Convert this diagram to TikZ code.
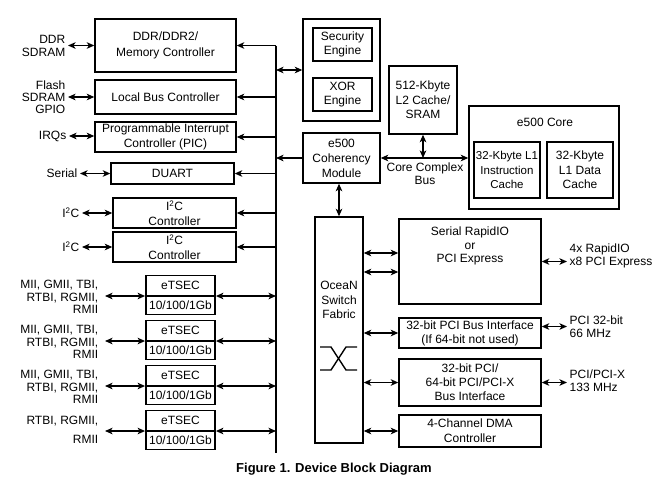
\documentclass[tikz,border=0pt]{standalone}
\usepackage{fontspec}
\setmainfont{Liberation Sans}
\usetikzlibrary{calc,shapes.multipart,arrows.meta}

\begin{document}
\begin{tikzpicture}[x=1pt, y=-1pt, line width=1.4pt,
  font=\fontsize{12}{14}\selectfont,
  ls/.style={font=\fontsize{12}{#1}\selectfont},
  blk/.style={rectangle, draw, align=center, inner sep=1pt},
  txt/.style={align=center, inner sep=1pt},
  ext/.style={align=right, anchor=east, inner sep=2pt},
  extr/.style={align=left, anchor=west, inner sep=2pt},
  tsec/.style={rectangle split, rectangle split parts=2, draw, minimum width=69, inner ysep=4pt, text height=9pt, text depth=2pt, anchor=text split},
  >={Stealth[length=7.5pt,width=6.5pt,inset=2pt]}]
\useasboundingbox (0,0) rectangle (666,485);

\node[blk, minimum width=141, minimum height=53, ls=16] (ddr) at (165.5,45.5) {DDR/DDR2/\\Memory Controller};
\node[blk, minimum width=141, minimum height=34] (lbc) at (165.5,97) {Local Bus Controller};
\node[blk, minimum width=141, minimum height=30, ls=15] (pic) at (165.5,137) {Programmable Interrupt\\Controller (PIC)};
\node[blk, minimum width=123, minimum height=21] (duart) at (172.5,173.5) {DUART};
\node[blk, minimum width=123, minimum height=30, ls=15] (iicA) at (174.5,213) {I\textsuperscript{2}C\\Controller};
\node[blk, minimum width=123, minimum height=30, ls=15] (iicB) at (174.5,247) {I\textsuperscript{2}C\\Controller};
\node[tsec] (tsA) at (180.5,296) {eTSEC \nodepart{two} 10/100/1Gb};
\node[tsec] (tsB) at (180.5,341) {eTSEC \nodepart{two} 10/100/1Gb};
\node[tsec] (tsC) at (180.5,386) {eTSEC \nodepart{two} 10/100/1Gb};
\node[tsec] (tsD) at (180.5,431) {eTSEC \nodepart{two} 10/100/1Gb};

\node[ext, ls=13] (ddrext) at (68,45.5) {DDR\\SDRAM};
\node[ext, ls=12] (lbcext) at (68,97) {Flash\\SDRAM\\GPIO};
\node[ext] (picext) at (69,136) {IRQs};
\node[ext] (duartext) at (80,173.5) {Serial};
\node[ext] (iicAext) at (82,213) {I\textsuperscript{2}C};
\node[ext] (iicBext) at (82,247) {I\textsuperscript{2}C};
\node[ext, ls=12.5, inner xsep=6pt] (tsAext) at (105,297) {MII, GMII, TBI,\\RTBI, RGMII,\\RMII};
\node[ext, ls=12.5, inner xsep=6pt] (tsBext) at (105,342) {MII, GMII, TBI,\\RTBI, RGMII,\\RMII};
\node[ext, ls=12.5, inner xsep=6pt] (tsCext) at (105,387) {MII, GMII, TBI,\\RTBI, RGMII,\\RMII};
\node[ext, ls=19, inner xsep=6pt] (tsDext) at (105,430) {RTBI, RGMII,\\RMII};

\draw[<->] (ddrext.east) -- (ddrext.east -| ddr.west);
\draw[<->] (lbcext.east) -- (lbcext.east -| lbc.west);
\draw[<->] (picext.east) -- (picext.east -| pic.west);
\draw[<->] (duartext.east) -- (duartext.east -| duart.west);
\draw[<->] (iicAext.east) -- (iicAext.east -| iicA.west);
\draw[<->] (iicBext.east) -- (iicBext.east -| iicB.west);
\draw[<->] (tsA.text split west -| tsAext.east) -- (tsA.text split west);
\draw[<->] (tsB.text split west -| tsBext.east) -- (tsB.text split west);
\draw[<->] (tsC.text split west -| tsCext.east) -- (tsC.text split west);
\draw[<->] (tsD.text split west -| tsDext.east) -- (tsD.text split west);

\coordinate (bustop) at (276,45.5);
\coordinate (busbot) at (276,453);
\draw[line width=1.6pt] (bustop) -- (busbot);
\draw[->] (ddr.east -| bustop) -- (ddr.east);
\draw[->] (lbc.east -| bustop) -- (lbc.east);
\draw[->] (pic.east -| bustop) -- (pic.east);
\draw[->] (duart.east -| bustop) -- (duart.east);
\draw[->] (iicA.east -| bustop) -- (iicA.east);
\draw[->] (iicB.east -| bustop) -- (iicB.east);
\draw[<->] (tsA.text split east) -- (tsA.text split east -| bustop);
\draw[<->] (tsB.text split east) -- (tsB.text split east -| bustop);
\draw[<->] (tsC.text split east) -- (tsC.text split east -| bustop);
\draw[<->] (tsD.text split east) -- (tsD.text split east -| bustop);

\node[blk, minimum width=77, minimum height=102] (secbox) at (341.5,70) {};
\node[blk, minimum width=59, minimum height=33] (sec) at (342.5,44.5) {Security\\Engine};
\node[blk, minimum width=59, minimum height=33] (xor) at (342.5,94.5) {XOR\\Engine};
\node[blk, minimum width=68, minimum height=68, ls=14.5] (ltwo) at (423,100) {512-Kbyte\\L2 Cache/\\SRAM};
\node[blk, minimum width=150, minimum height=103] (core) at (544,157.5) {};
\node[txt] (coretxt) at (545,122) {e500 Core};
\node[blk, minimum width=66, minimum height=56, inner sep=0pt, font=\fontsize{11.5}{14.5}\selectfont] (lonei) at (507,170) {32-Kbyte L1\\Instruction\\Cache};
\node[blk, minimum width=66, minimum height=56, ls=14.5] (loned) at (580,170) {32-Kbyte\\L1 Data\\Cache};
\node[blk, minimum width=77, minimum height=50, ls=15] (coh) at (341.5,158) {e500\\Coherency\\Module};
\node[txt, ls=13] (ccb) at (425,173.5) {Core Complex\\Bus};

\draw[<->] (secbox.west -| bustop) -- (secbox.west);
\draw[->] (coh.west) -- (coh.west -| bustop);
\draw[<->] (coh.east) -- (coh.east -| core.west);
\draw[<->] (ltwo.south) -- (ltwo.south |- coh.east);

\node[blk, minimum width=48, minimum height=226] (ocean) at (339,330) {};
\node[txt, ls=14.5] (oceantxt) at (339,300) {OceaN\\Switch\\Fabric};
\draw (ocean.center) ++(-19,17) -- ++(11,0) -- ++(15,23) -- ++(11,0);
\draw (ocean.center) ++(-19,40) -- ++(11,0) -- ++(15,-23) -- ++(11,0);
\draw[<->] (coh.south -| ocean.north) -- (ocean.north);

\node[blk, minimum width=142, minimum height=85] (srio) at (470,261.5) {};
\node[txt, ls=13.5] (sriotxt) at (470,246) {Serial RapidIO\\or\\PCI Express};
\node[blk, minimum width=142, minimum height=30, ls=14] (pcit) at (470,333) {32-bit PCI Bus Interface\\(If 64-bit not used)};
\node[blk, minimum width=142, minimum height=47, ls=14] (pcix) at (470,382.5) {32-bit PCI/\\64-bit PCI/PCI-X\\Bus Interface};
\node[blk, minimum width=142, minimum height=32, ls=15] (dma) at (470,431) {4-Channel DMA\\Controller};

\node[extr, ls=13] (srioext) at (567,255.5) {4x RapidIO\\x8 PCI Express};
\node[extr, ls=13] (pcitext) at (567,326.5) {PCI 32-bit\\66 MHz};
\node[extr, ls=13] (pcixext) at (567,380.5) {PCI/PCI-X\\133 MHz};

\draw[<->] ([yshift=8.5pt]srio.west) -- ([yshift=8.5pt]srio.west -| ocean.east);
\draw[<->] ([yshift=-10.5pt]srio.west) -- ([yshift=-10.5pt]srio.west -| ocean.east);
\draw[<->] (pcit.west) -- (pcit.west -| ocean.east);
\draw[<->] (pcix.west) -- (pcix.west -| ocean.east);
\draw[<->] (dma.west) -- (dma.west -| ocean.east);
\draw[<->] (srio.east) -- (srio.east -| srioext.west);
\draw[<->] (pcitext.west -| pcit.east) -- (pcitext.west);
\draw[<->] (pcix.east) -- (pcix.east -| pcixext.west);

\node[font=\bfseries\fontsize{13}{15}\selectfont] (caption) at (334,469) {Figure 1. Device Block Diagram};
\end{tikzpicture}
\end{document}
